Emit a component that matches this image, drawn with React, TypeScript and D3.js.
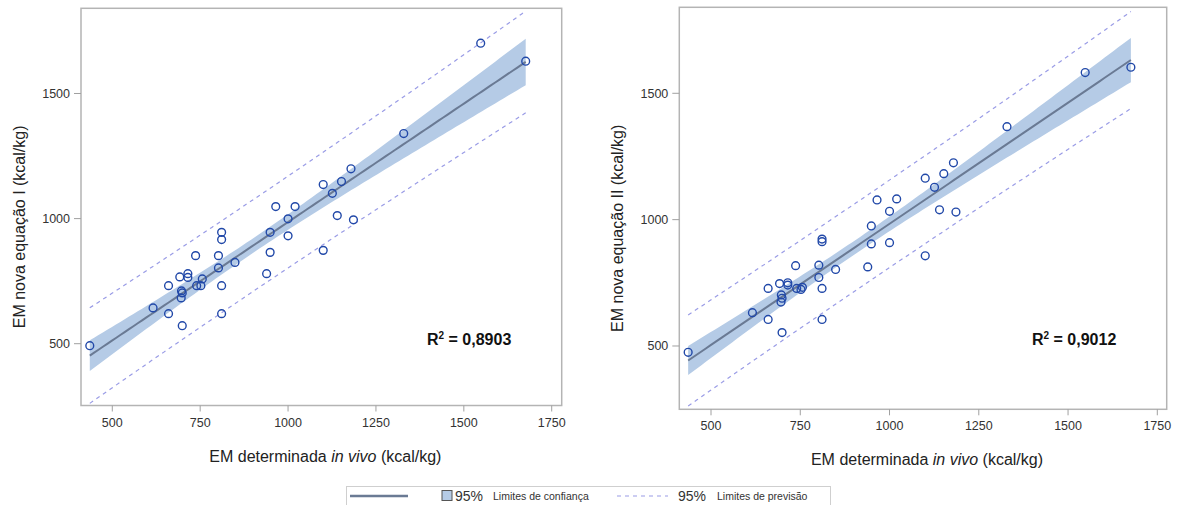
import React from "react";
import * as d3 from "d3";

// ---- data ----
const emInVivo = [436, 616, 660, 660, 699, 696, 699, 697, 692, 715, 715, 737, 740, 752, 756, 802, 802, 811, 811, 811, 811, 849, 939, 949, 949, 965, 1000, 1000, 1020, 1100, 1100, 1126, 1140, 1152, 1179, 1186, 1329, 1548, 1676];
const emEqI = [492, 643, 732, 620, 572, 683, 703, 711, 767, 780, 765, 852, 732, 732, 759, 852, 803, 945, 916, 732, 620, 825, 780, 865, 945, 1048, 999, 931, 1048, 1136, 873, 1101, 1012, 1148, 1199, 995, 1340, 1701, 1629];
const emEqII = [475, 632, 728, 605, 553, 674, 689, 702, 747, 750, 741, 818, 728, 724, 732, 771, 820, 923, 913, 728, 605, 803, 813, 904, 975, 1078, 1033, 909, 1082, 1164, 857, 1128, 1039, 1182, 1225, 1030, 1368, 1582, 1603];
const xTicks = [500, 750, 1000, 1250, 1500, 1750];
const yTicks = [500, 1000, 1500];
const r2Labels = ["0,8903", "0,9012"];
const yTitles = ["EM nova equação I (kcal/kg)", "EM nova equação II (kcal/kg)"];
const tCrit = 2.026; // t(0.975, df = 37)

const FONT = "'Liberation Sans', Arial, sans-serif";

type Panel = {
  ys: number[];
  px: [number, number];
  py: [number, number];
  xDom: [number, number];
  yDom: [number, number];
  yTitleX: number;
  r2X: number;
  idx: number;
};

const panels: Panel[] = [
  { ys: emEqI, px: [81, 561.7], py: [8.3, 405.5], xDom: [411, 1778.4], yDom: [253, 1840.5], yTitleX: 25, r2X: 427, idx: 0 },
  { ys: emEqII, px: [679.3, 1166.7], py: [7.3, 409.3], xDom: [411.2, 1776.3], yDom: [249.5, 1840.3], yTitleX: 623, r2X: 1032, idx: 1 },
];

function fit(xs: number[], ys: number[]) {
  const n = xs.length;
  const mx = d3.mean(xs)!;
  const my = d3.mean(ys)!;
  let sxx = 0, sxy = 0;
  for (let i = 0; i < n; i++) {
    sxx += (xs[i] - mx) ** 2;
    sxy += (xs[i] - mx) * (ys[i] - my);
  }
  const b = sxy / sxx;
  const a = my - b * mx;
  let sse = 0;
  for (let i = 0; i < n; i++) sse += (ys[i] - a - b * xs[i]) ** 2;
  const s = Math.sqrt(sse / (n - 2));
  return { a, b, s, n, mx, sxx };
}

function PanelView({ p }: { p: Panel }) {
  const x = d3.scaleLinear().domain(p.xDom).range(p.px);
  const y = d3.scaleLinear().domain(p.yDom).range([p.py[1], p.py[0]]);
  const f = fit(emInVivo, p.ys);
  const [xmin, xmax] = d3.extent(emInVivo) as [number, number];
  const grid = d3.range(0, 101).map((i) => xmin + ((xmax - xmin) * i) / 100);
  const rows = grid.map((xv) => {
    const yh = f.a + f.b * xv;
    const h = (xv - f.mx) ** 2 / f.sxx;
    const ci = tCrit * f.s * Math.sqrt(1 / f.n + h);
    const pi = tCrit * f.s * Math.sqrt(1 + 1 / f.n + h);
    return { xv, yh, ci, pi };
  });
  const band = d3
    .area<any>()
    .x((d) => x(d.xv))
    .y0((d) => y(d.yh - d.ci))
    .y1((d) => y(d.yh + d.ci))(rows)!;
  const lineGen = (fn: (d: any) => number) =>
    d3.line<any>().x((d) => x(d.xv)).y((d) => y(fn(d)))(rows)!;
  const frameW = p.px[1] - p.px[0];
  const frameH = p.py[1] - p.py[0];
  const cx = (p.px[0] + p.px[1]) / 2;
  return (
    <g>
      <rect x={p.px[0]} y={p.py[0]} width={frameW} height={frameH} fill="white" stroke="#b4b4b4" strokeWidth={1.5} />
      <defs>
        <clipPath id={`clip${p.idx}`}>
          <rect x={p.px[0]} y={p.py[0]} width={frameW} height={frameH} />
        </clipPath>
      </defs>
      <g clipPath={`url(#clip${p.idx})`}>
        <path d={band} fill="#b5cbe6" />
        <path d={lineGen((d) => d.yh)} fill="none" stroke="#6a7a94" strokeWidth={2} />
        <path d={lineGen((d) => d.yh + d.pi)} fill="none" stroke="#9a9ce6" strokeWidth={1.2} strokeDasharray="4,4" />
        <path d={lineGen((d) => d.yh - d.pi)} fill="none" stroke="#9a9ce6" strokeWidth={1.2} strokeDasharray="4,4" />
        {emInVivo.map((xv, i) => (
          <circle key={i} cx={x(xv)} cy={y(p.ys[i])} r={3.9} fill="none" stroke="#2148a8" strokeWidth={1.4} />
        ))}
      </g>
      {xTicks.map((t) => (
        <g key={t}>
          <line x1={x(t)} x2={x(t)} y1={p.py[1]} y2={p.py[1] + 6} stroke="#a0a0a0" />
          <text x={x(t)} y={p.py[1] + 21} textAnchor="middle" fontSize={12.5} fill="#333" fontFamily={FONT}>
            {t}
          </text>
        </g>
      ))}
      {yTicks.map((t) => (
        <g key={t}>
          <line x1={p.px[0] - 7} x2={p.px[0]} y1={y(t)} y2={y(t)} stroke="#a0a0a0" />
          <text x={p.px[0] - 11} y={y(t) + 4.5} textAnchor="end" fontSize={12.5} fill="#333" fontFamily={FONT}>
            {t}
          </text>
        </g>
      ))}
      <text x={cx + 4} y={p.py[1] + 56} textAnchor="middle" fontSize={16} fill="#222" fontFamily={FONT}>
        EM determinada <tspan fontStyle="italic">in vivo</tspan> (kcal/kg)
      </text>
      <text
        transform={`translate(${p.yTitleX},${(p.py[0] + p.py[1]) / 2 + 20}) rotate(-90)`}
        textAnchor="middle"
        fontSize={16}
        fill="#222"
        fontFamily={FONT}
      >
        {yTitles[p.idx]}
      </text>
      <text x={p.r2X} y={345} fontSize={16} fontWeight="bold" fill="#111" fontFamily={FONT}>
        R<tspan fontSize={10} dy={-6}>2</tspan>
        <tspan dy={6}> = {r2Labels[p.idx]}</tspan>
      </text>
    </g>
  );
}

export default function App() {
  return (
    <svg width={1177} height={505} style={{ position: "absolute", left: 0, top: 0, background: "white" }}>
      <rect x={0} y={0} width={1177} height={505} fill="white" />
      {panels.map((p) => (
        <PanelView key={p.idx} p={p} />
      ))}
      <g fontFamily={FONT}>
        <rect x={346.5} y={486.5} width={484} height={30} fill="white" stroke="#cfcfcf" />
        <line x1={350} x2={408} y1={496} y2={496} stroke="#6a7a94" strokeWidth={2.5} />
        <rect x={442} y={490.5} width={10} height={10} fill="#b5cbe6" stroke="#555" strokeWidth={1} />
        <text x={455} y={501} fontSize={14} fill="#333">95%</text>
        <text x={493} y={500} fontSize={10.5} fill="#333">Limites de confiança</text>
        <line x1={617} x2={668} y1={496} y2={496} stroke="#9a9ce6" strokeWidth={1.2} strokeDasharray="4,4" />
        <text x={678} y={501} fontSize={14} fill="#333">95%</text>
        <text x={717} y={500} fontSize={10.5} fill="#333">Limites de previsão</text>
      </g>
    </svg>
  );
}
